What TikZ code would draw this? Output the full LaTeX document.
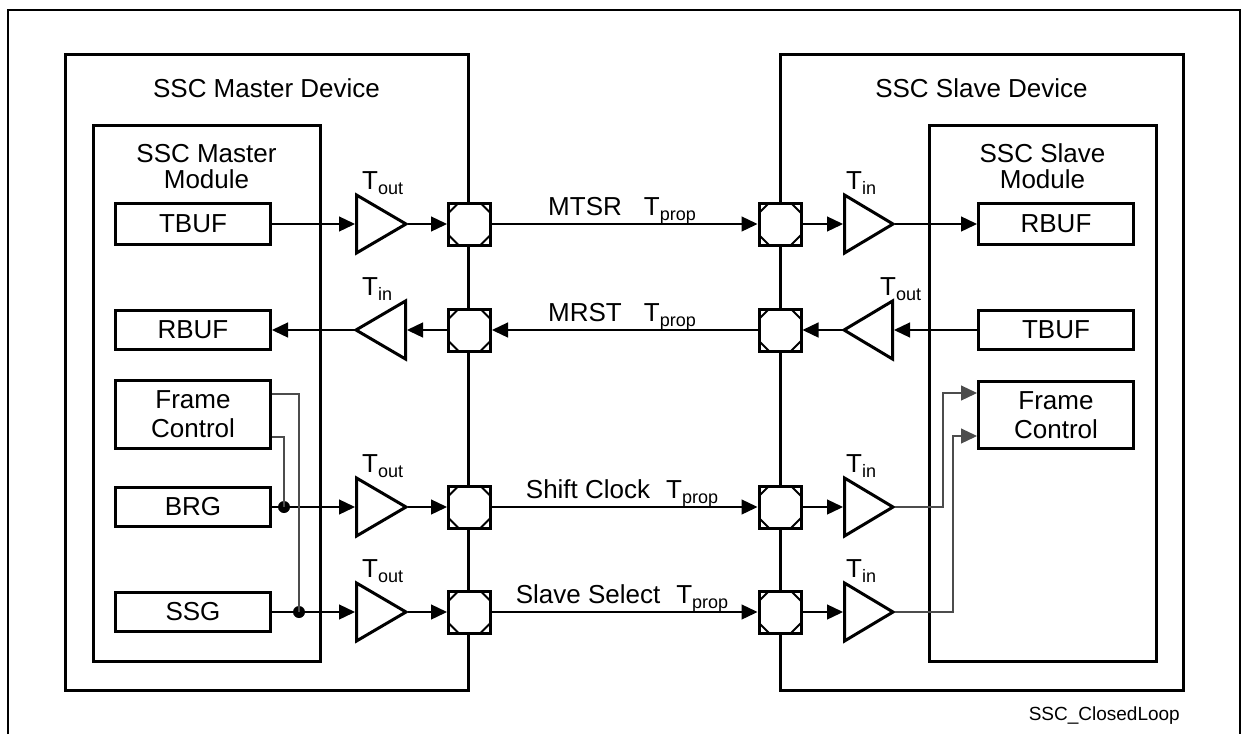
\documentclass[tikz,border=0pt]{standalone}
\usepackage{fontspec}
\setmainfont{Liberation Sans}
\usetikzlibrary{arrows.meta}
\newcommand{\Tx}[1]{T\raisebox{-5pt}{\fontsize{18pt}{18pt}\selectfont #1}}
\begin{document}
\begin{tikzpicture}[x=1pt,y=-1pt,
  every node/.style={font=\fontsize{26pt}{29pt}\selectfont},
  box/.style={draw, line width=3pt, fill=white, minimum width=155pt, minimum height=39pt, inner sep=0pt, align=center},
  pad/.style={draw, line width=3pt, fill=white, minimum size=42pt, inner sep=0pt,
    path picture={
      \draw[line width=1.8pt]
        ([yshift=-10pt]path picture bounding box.north west) -- ([xshift=10pt]path picture bounding box.north west)
        ([yshift=-10pt]path picture bounding box.north east) -- ([xshift=-10pt]path picture bounding box.north east)
        ([yshift=10pt]path picture bounding box.south west) -- ([xshift=10pt]path picture bounding box.south west)
        ([yshift=10pt]path picture bounding box.south east) -- ([xshift=-10pt]path picture bounding box.south east);
    }},
  sig/.style={line width=1.3pt, -{Triangle[length=16pt,width=15pt]}},
  wire/.style={line width=1.2pt, black!70},
  buf/.style={line width=3pt, line join=miter},
  dev/.style={line width=3pt},
  dot/.style={circle, fill=black, minimum size=12pt, inner sep=0pt},
  tlab/.style={anchor=base west, inner sep=0pt},
  slab/.style={anchor=base, inner sep=0pt},
]
\useasboundingbox (0,0) rectangle (1242,734);
% outer frame
\draw[line width=2pt] (8,734) -- (8,10) -- (1240,10) -- (1240,734);

% device and module boxes
\draw[dev] (65,54) rectangle (468,690);
\draw[dev] (93,125) rectangle (320,661);
\draw[dev] (780,54) rectangle (1183,690);
\draw[dev] (929,125) rectangle (1156,661);

\node[anchor=base] (tmd) at (266.5,97) {SSC Master Device};
\node[anchor=base] (tsd) at (981.5,97) {SSC Slave Device};
\node[anchor=base, align=center, font=\fontsize{26pt}{26pt}\selectfont] (tmm) at (206.5,188) {SSC Master\\Module};
\node[anchor=base, align=center, font=\fontsize{26pt}{26pt}\selectfont] (tsm) at (1042.5,188) {SSC Slave\\Module};

% master module boxes
\node[box, minimum height=41pt] (mtbuf) at (193,224) {TBUF};
\node[box] (mrbuf) at (193,330) {RBUF};
\node[box, minimum height=68pt] (mfc) at (193,414.5) {Frame\\Control};
\node[box] (mbrg) at (193,507) {BRG};
\node[box] (mssg) at (193,612) {SSG};

% slave module boxes
\node[box, minimum height=41pt] (srbuf) at (1056,224) {RBUF};
\node[box] (stbuf) at (1056,330) {TBUF};
\node[box, minimum height=67pt] (sfc) at (1056,415) {Frame\\Control};

% pads
\node[pad] (mp1) at (469.5,224) {};
\node[pad] (mp2) at (469.5,330) {};
\node[pad] (mp3) at (469.5,507) {};
\node[pad] (mp4) at (469.5,612) {};
\node[pad] (sp1) at (780,224) {};
\node[pad] (sp2) at (780,330) {};
\node[pad] (sp3) at (780,507) {};
\node[pad] (sp4) at (780,612) {};

% buffers (triangles) master
\draw[buf] (356.5,195) -- (406,224) -- (356.5,253) -- cycle;
\draw[buf] (405.5,301) -- (356,330) -- (405.5,359) -- cycle;
\draw[buf] (356.5,478) -- (406,507) -- (356.5,536) -- cycle;
\draw[buf] (356.5,583) -- (406,612) -- (356.5,641) -- cycle;
% buffers slave
\draw[buf] (844.5,195) -- (893,224) -- (844.5,253) -- cycle;
\draw[buf] (892.5,301) -- (844,330) -- (892.5,359) -- cycle;
\draw[buf] (844.5,478) -- (893,507) -- (844.5,536) -- cycle;
\draw[buf] (844.5,583) -- (893,612) -- (844.5,641) -- cycle;

\coordinate (mb1i) at (355,224); \coordinate (mb1o) at (407.5,224);
\coordinate (mb2i) at (407,330); \coordinate (mb2o) at (354.5,330);
\coordinate (mb3i) at (355,507); \coordinate (mb3o) at (407.5,507);
\coordinate (mb4i) at (355,612); \coordinate (mb4o) at (407.5,612);
\coordinate (sb1i) at (843,224); \coordinate (sb1o) at (894.5,224);
\coordinate (sb2i) at (894,330); \coordinate (sb2o) at (842.5,330);
\coordinate (sb3i) at (843,507); \coordinate (sb3o) at (894.5,507);
\coordinate (sb4i) at (843,612); \coordinate (sb4o) at (894.5,612);

% buffer labels
\node[tlab] (lm1) at (362,189) {\Tx{out}};
\node[tlab] (lm2) at (362,295) {\Tx{in}};
\node[tlab] (lm3) at (362,472) {\Tx{out}};
\node[tlab] (lm4) at (362,577) {\Tx{out}};
\node[tlab] (ls1) at (846,189) {\Tx{in}};
\node[tlab] (ls2) at (880,295) {\Tx{out}};
\node[tlab] (ls3) at (846,472) {\Tx{in}};
\node[tlab] (ls4) at (846,577) {\Tx{in}};

% dots
\node[dot] (d1) at (284,507) {};
\node[dot] (d2) at (299,612) {};

% row 1
\draw[sig] (mtbuf.east) -- (mb1i);
\draw[sig] (mb1o) -- (mp1.west);
\draw[sig] (mp1.east) -- (sp1.west);
\draw[sig] (sp1.east) -- (sb1i);
\draw[sig] (sb1o) -- (srbuf.west);
% row 2
\draw[sig] (stbuf.west) -- (sb2i);
\draw[sig] (sb2o) -- (sp2.east);
\draw[sig] (sp2.west) -- (mp2.east);
\draw[sig] (mp2.west) -- (mb2i);
\draw[sig] (mb2o) -- (mrbuf.east);
% row 3
\draw[sig] (mbrg.east) -- (mb3i);
\draw[sig] (mb3o) -- (mp3.west);
\draw[sig] (mp3.east) -- (sp3.west);
\draw[sig] (sp3.east) -- (sb3i);
% row 4
\draw[sig] (mssg.east) -- (mb4i);
\draw[sig] (mb4o) -- (mp4.west);
\draw[sig] (mp4.east) -- (sp4.west);
\draw[sig] (sp4.east) -- (sb4i);

% frame control wiring master
\draw[wire] ([yshift=20.5pt]mfc.east) -| (d2.center);
\draw[wire] ([yshift=-22.5pt]mfc.east) -| (d1.center);
% frame control wiring slave
\draw[wire, -{Triangle[length=16pt,width=15pt]}] (sb3o) -- ++(48.5,0) |- ([yshift=22pt]sfc.west);
\draw[wire, -{Triangle[length=16pt,width=15pt]}] (sb4o) -- ++(58.5,0) |- ([yshift=-21pt]sfc.west);

% signal labels
\node[slab] (n1) at (622,215) {MTSR\hspace{22pt}\Tx{prop}};
\node[slab] (n2) at (622,321) {MRST\hspace{22pt}\Tx{prop}};
\node[slab] (n3) at (622,498) {Shift Clock\hspace{16pt}\Tx{prop}};
\node[slab] (n4) at (622,603) {Slave Select\hspace{16pt}\Tx{prop}};

\node[anchor=base east, inner sep=0pt, font=\fontsize{19pt}{22pt}\selectfont] (cap) at (1180,720) {SSC\_ClosedLoop};
\end{tikzpicture}
\end{document}
